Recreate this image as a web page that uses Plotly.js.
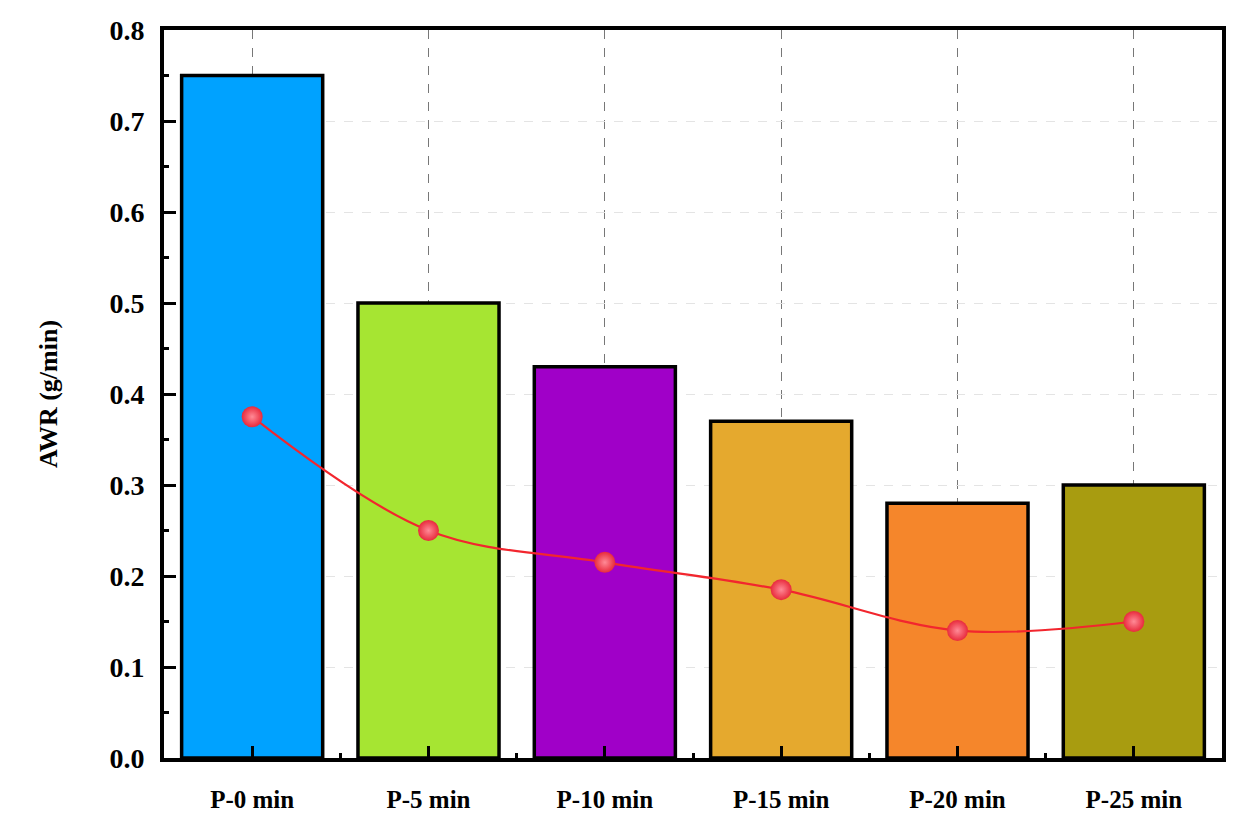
<!DOCTYPE html>
<html>
<head>
<script src="https://cdn.plot.ly/plotly-3.0.1.min.js"></script>
<style>
  body { margin: 0; background: #fff; }
  #chart { width: 1243px; height: 833px; }
</style>
</head>
<body>
<div id="chart"></div>
<script>
// samples and their values
var samples = ['P-0 min', 'P-5 min', 'P-10 min', 'P-15 min', 'P-20 min', 'P-25 min'];
var awrBars = [0.75, 0.50, 0.43, 0.37, 0.28, 0.30];
var awrLine = [0.375, 0.25, 0.215, 0.185, 0.14, 0.15];
var barColors = ['#00a2ff', '#a6e532', '#a000c8', '#e5a92e', '#f5862b', '#a89c10'];

var xIdx = samples.map(function (s, i) { return i; });

var bars = {
  x: xIdx,
  y: awrBars,
  type: 'bar',
  width: 0.8,
  marker: { color: barColors, line: { color: '#000', width: 3.5 } },
  hoverinfo: 'y',
  showlegend: false
};

var line = {
  x: xIdx,
  y: awrLine,
  type: 'scatter',
  mode: 'lines+markers',
  line: { color: '#f2262e', width: 2.2, shape: 'spline', smoothing: 1 },
  marker: {
    size: 21,
    color: '#e82a3c',
    gradient: { type: 'radial', color: '#ff8a96' },
    line: { width: 0 }
  },
  showlegend: false
};

var serif = '"Liberation Serif", "Times New Roman", serif';

var layout = {
  width: 1243,
  height: 833,
  margin: { l: 164, r: 21, t: 30, b: 75 },
  paper_bgcolor: '#fff',
  plot_bgcolor: '#fff',
  font: { family: serif, color: '#000' },
  xaxis: {
    type: 'linear',
    range: [-0.5, 5.5],
    tickvals: xIdx,
    ticktext: samples,
    tickfont: { family: serif, size: 25, color: '#000', weight: 'bold' },
    ticks: 'inside',
    ticklen: 12,
    tickwidth: 3,
    tickcolor: '#000',
    ticklabelstandoff: 16,
    minor: { tick0: 0.5, dtick: 1, ticks: 'inside', ticklen: 5, tickwidth: 3, tickcolor: '#000', showgrid: false },
    showgrid: true,
    gridcolor: '#777',
    griddash: 'dash',
    gridwidth: 1,
    zeroline: false,
    showline: true,
    linecolor: '#000',
    linewidth: 4,
    mirror: true,
    fixedrange: true
  },
  yaxis: {
    range: [0, 0.8],
    dtick: 0.1,
    tickformat: '.1f',
    tickfont: { family: serif, size: 28, color: '#000', weight: 'bold' },
    title: { text: 'AWR (g/min)', font: { family: serif, size: 26, color: '#000', weight: 'bold' }, standoff: 45 },
    ticks: 'inside',
    ticklen: 12,
    tickwidth: 3,
    tickcolor: '#000',
    ticklabelstandoff: 10,
    minor: { dtick: 0.05, ticks: 'inside', ticklen: 5, tickwidth: 3, tickcolor: '#000', showgrid: false },
    showgrid: true,
    gridcolor: '#e4e4e4',
    griddash: 'dash',
    gridwidth: 1,
    zeroline: false,
    showline: true,
    linecolor: '#000',
    linewidth: 4,
    mirror: true,
    fixedrange: true
  }
};

Plotly.newPlot('chart', [bars, line], layout, { displayModeBar: false, staticPlot: true });
</script>
</body>
</html>
